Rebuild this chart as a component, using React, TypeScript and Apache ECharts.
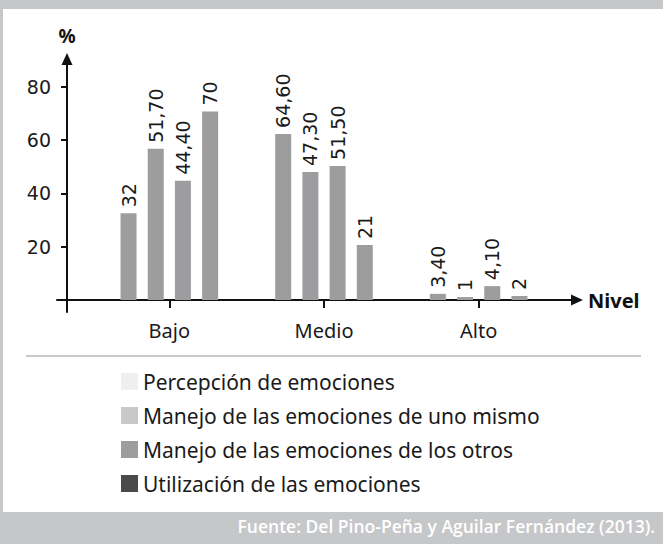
import React, { useEffect, useRef } from "react";
import * as echarts from "echarts";

const categories = ["Bajo", "Medio", "Alto"];
const seriesNames = [
  "Percepción de emociones",
  "Manejo de las emociones de uno mismo",
  "Manejo de las emociones de los otros",
  "Utilización de las emociones",
];
// Bar heights as drawn in the picture
const percepcionBars = [32.5, 62.3, 2.3];
const unoMismoBars = [56.7, 48.0, 1.1];
const otrosBars = [44.7, 50.3, 5.2];
const utilizacionBars = [70.7, 20.6, 1.5];
// Values printed above the bars
const percepcionLabels = [32, 64.6, 3.4];
const unoMismoLabels = [51.7, 47.3, 1];
const otrosLabels = [44.4, 51.5, 4.1];
const utilizacionLabels = [70, 21, 2];
const yTickValues = [20, 40, 60, 80];
const legendColors = ["#efefef", "#c8c8ca", "#9d9d9f", "#4a4a4c"];
const sourceText = "Fuente: Del Pino-Peña y Aguilar Fernández (2013).";

const barsList = [percepcionBars, unoMismoBars, otrosBars, utilizacionBars];
const labelsList = [percepcionLabels, unoMismoLabels, otrosLabels, utilizacionLabels];

const fmt = (v: number) =>
  Number.isInteger(v) ? String(v) : v.toFixed(2).replace(".", ",");

const Y_MIN = -4.5;
const Y_MAX = 90.4;

export default function App() {
  const ref = useRef<HTMLDivElement>(null);
  useEffect(() => {
    if (!ref.current) return;
    const chart = echarts.init(ref.current, null, { renderer: "svg" });
    const numFont = "DejaVu Sans";
    const txtFont = "Noto Sans";
    chart.setOption({
      animation: false,
      backgroundColor: "#ffffff",
      grid: [
        { left: 57, right: 86, top: 59, bottom: 232 },
        { left: 92, right: 107, top: 59, bottom: 232 },
      ],
      xAxis: [
        {
          type: "value",
          gridIndex: 0,
          min: -10,
          max: 510,
          name: "Nivel",
          nameLocation: "end",
          nameGap: 11,
          nameTextStyle: {
            fontFamily: txtFont,
            fontWeight: "bold",
            fontSize: 20,
            color: "#111",
            verticalAlign: "middle",
          },
          axisLine: {
            show: true,
            onZero: true,
            symbol: ["none", "triangle"],
            symbolSize: [11, 12],
            lineStyle: { color: "#111", width: 2 },
          },
          axisTick: { show: false },
          axisLabel: { show: false },
          splitLine: { show: false },
        },
        {
          type: "category",
          gridIndex: 1,
          data: categories,
          axisLine: { show: false },
          axisTick: {
            show: true,
            alignWithLabel: true,
            length: 8,
            lineStyle: { color: "#111", width: 2 },
          },
          axisLabel: {
            margin: 8,
            fontFamily: txtFont,
            fontSize: 20,
            color: "#1a1a1a",
          },
          splitLine: { show: false },
        },
      ],
      yAxis: [
        {
          type: "value",
          gridIndex: 0,
          min: Y_MIN,
          max: Y_MAX,
          name: "%",
          nameLocation: "end",
          nameGap: 14,
          nameTextStyle: {
            fontFamily: txtFont,
            fontWeight: "bold",
            fontSize: 19,
            color: "#111",
            align: "center",
          },
          axisLine: {
            show: true,
            onZero: true,
            symbol: ["none", "triangle"],
            symbolSize: [11, 12],
            lineStyle: { color: "#111", width: 2 },
          },
          axisTick: {
            show: true,
            customValues: yTickValues,
            length: 6,
            lineStyle: { color: "#111", width: 2 },
          },
          axisLabel: {
            show: true,
            customValues: yTickValues,
            margin: 6,
            fontFamily: numFont,
            fontSize: 19,
            color: "#1a1a1a",
          },
          splitLine: { show: false },
        },
        {
          type: "value",
          gridIndex: 1,
          min: Y_MIN,
          max: Y_MAX,
          show: false,
          splitLine: { show: false },
        },
      ],
      legend: {
        orient: "vertical",
        left: 116,
        top: 366,
        icon: "rect",
        itemWidth: 17,
        itemHeight: 17,
        itemGap: 13,
        selectedMode: false,
        textStyle: {
          fontFamily: txtFont,
          fontSize: 21,
          color: "#1a1a1a",
        },
        data: seriesNames.map((n, i) => ({
          name: n,
          itemStyle: { color: legendColors[i] },
        })),
      },
      series: seriesNames.map((name, si) => ({
        name,
        type: "bar",
        xAxisIndex: 1,
        yAxisIndex: 1,
        barWidth: 16,
        barGap: "70%",
        data: barsList[si],
        itemStyle: { color: "#9d9d9f" },
        label: {
          show: true,
          position: "top",
          rotate: 90,
          align: "left",
          verticalAlign: "middle",
          distance: 6,
          fontFamily: numFont,
          fontSize: 19,
          color: "#1a1a1a",
          formatter: (p: any) => fmt(labelsList[si][p.dataIndex]),
        },
      })),
      graphic: [
        { type: "rect", left: 0, top: 0, shape: { width: 663, height: 9 }, style: { fill: "#c6c7c9" }, silent: true },
        { type: "rect", left: 0, top: 0, shape: { width: 3, height: 544 }, style: { fill: "#c6c7c9" }, silent: true },
        { type: "rect", left: 0, top: 512, shape: { width: 663, height: 32 }, style: { fill: "#c6c7c9" }, silent: true },
        {
          type: "line",
          shape: { x1: 26, y1: 356, x2: 641, y2: 356 },
          style: { stroke: "#c8c8c8", lineWidth: 2 },
          silent: true,
        },
        {
          type: "text",
          right: 8,
          top: 517,
          style: {
            text: sourceText,
            fill: "#ffffff",
            font: `600 17.5px "Open Sans"`,
          },
          silent: true,
        },
      ],
    });
    return () => chart.dispose();
  }, []);
  return (
    <div
      ref={ref}
      style={{ position: "fixed", left: 0, top: 0, width: 663, height: 544, background: "#fff" }}
    />
  );
}
